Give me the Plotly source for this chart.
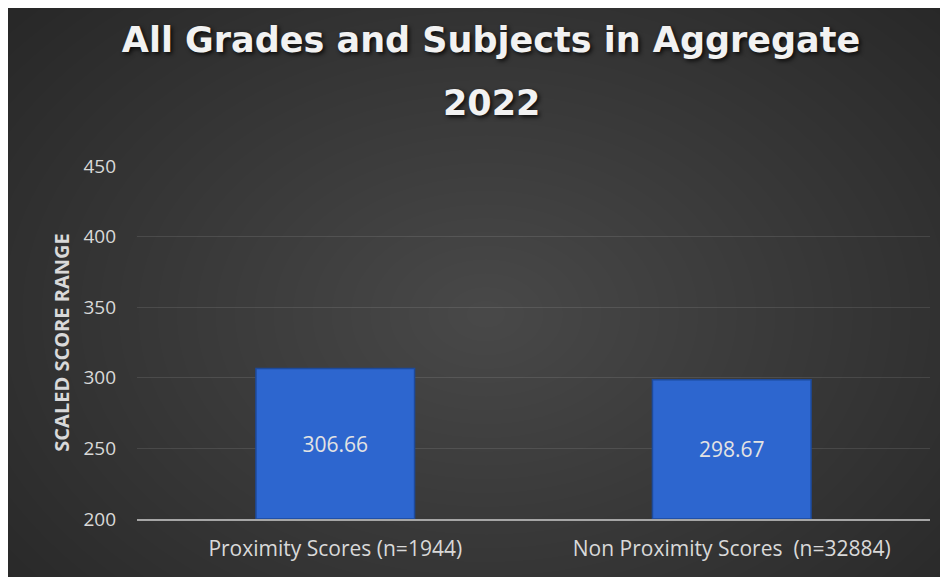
import plotly.graph_objects as go

# chart data
categories = ["Proximity Scores (n=1944)", "Non Proximity Scores\u00a0 (n=32884)"]
scores = [306.66, 298.67]
y_ticks = [200, 250, 300, 350, 400, 450]
axis_min = y_ticks[0]

fig = go.Figure()

# bars start at the axis minimum, like the original spreadsheet chart
fig.add_trace(go.Bar(
    x=categories,
    y=[s - axis_min for s in scores],
    base=axis_min,
    customdata=scores,
    width=0.4,
    marker=dict(color="#2d66cf", line=dict(color="#1d4a9c", width=1.5)),
    texttemplate="%{customdata:.2f}",
    textposition="inside",
    insidetextanchor="middle",
    textfont=dict(family="Open Sans", size=21, color="#e3e3e3"),
    hovertemplate="%{x}: %{customdata:.2f}<extra></extra>",
))

# dark radial-ish background from soft stacked ellipses
shapes = []
n_layers = 32
cx, cy = 0.44, 0.58
for i in range(n_layers):
    f = 1 - i / n_layers
    rx = 0.78 * f
    ry = 1.25 * f
    shapes.append(dict(type="circle", xref="paper", yref="paper",
                       x0=cx - rx, x1=cx + rx, y0=cy - ry, y1=cy + ry,
                       fillcolor="rgba(255,255,255,0.0095)", line=dict(width=0), layer="below"))

title_font = dict(family="DejaVu Sans", size=35, color="#f2f2f2", weight="bold",
                  shadow="2px 2px 4px rgba(0,0,0,0.8)")

fig.update_layout(
    width=948,
    height=577,
    paper_bgcolor="#282828",
    plot_bgcolor="rgba(0,0,0,0)",
    shapes=shapes,
    margin=dict(l=129, r=26, t=158, b=66),
    title=dict(
        text="All Grades and Subjects in Aggregate",
        x=483 / 948, xanchor="center", xref="container",
        y=1 - 32 / 577, yanchor="middle", yref="container",
        font=title_font,
    ),
    annotations=[dict(
        text="2022", showarrow=False,
        xref="paper", yref="paper",
        x=(483 - 129) / 793, y=(511 - 95) / 353,
        xanchor="center", yanchor="middle",
        font=title_font,
    )],
    xaxis=dict(
        showline=True, linecolor="#a6a6a6", linewidth=2,
        showgrid=False, ticks="", ticklabelstandoff=10,
        tickfont=dict(family="Open Sans", size=21, color="#d9d9d9"),
    ),
    yaxis=dict(
        range=[axis_min, y_ticks[-1]], tickvals=y_ticks,
        showgrid=True, gridcolor="rgba(255,255,255,0.1)", gridwidth=1,
        zeroline=False, showline=False, ticks="", ticklabelstandoff=20,
        tickfont=dict(family="Open Sans", size=19, color="#d9d9d9"),
        title=dict(text="SCALED SCORE RANGE", standoff=8,
                   font=dict(family="Open Sans", size=20, color="#d9d9d9", weight="bold")),
    ),
    showlegend=False,
    bargap=0.6,
)

fig.write_html("out.html")
